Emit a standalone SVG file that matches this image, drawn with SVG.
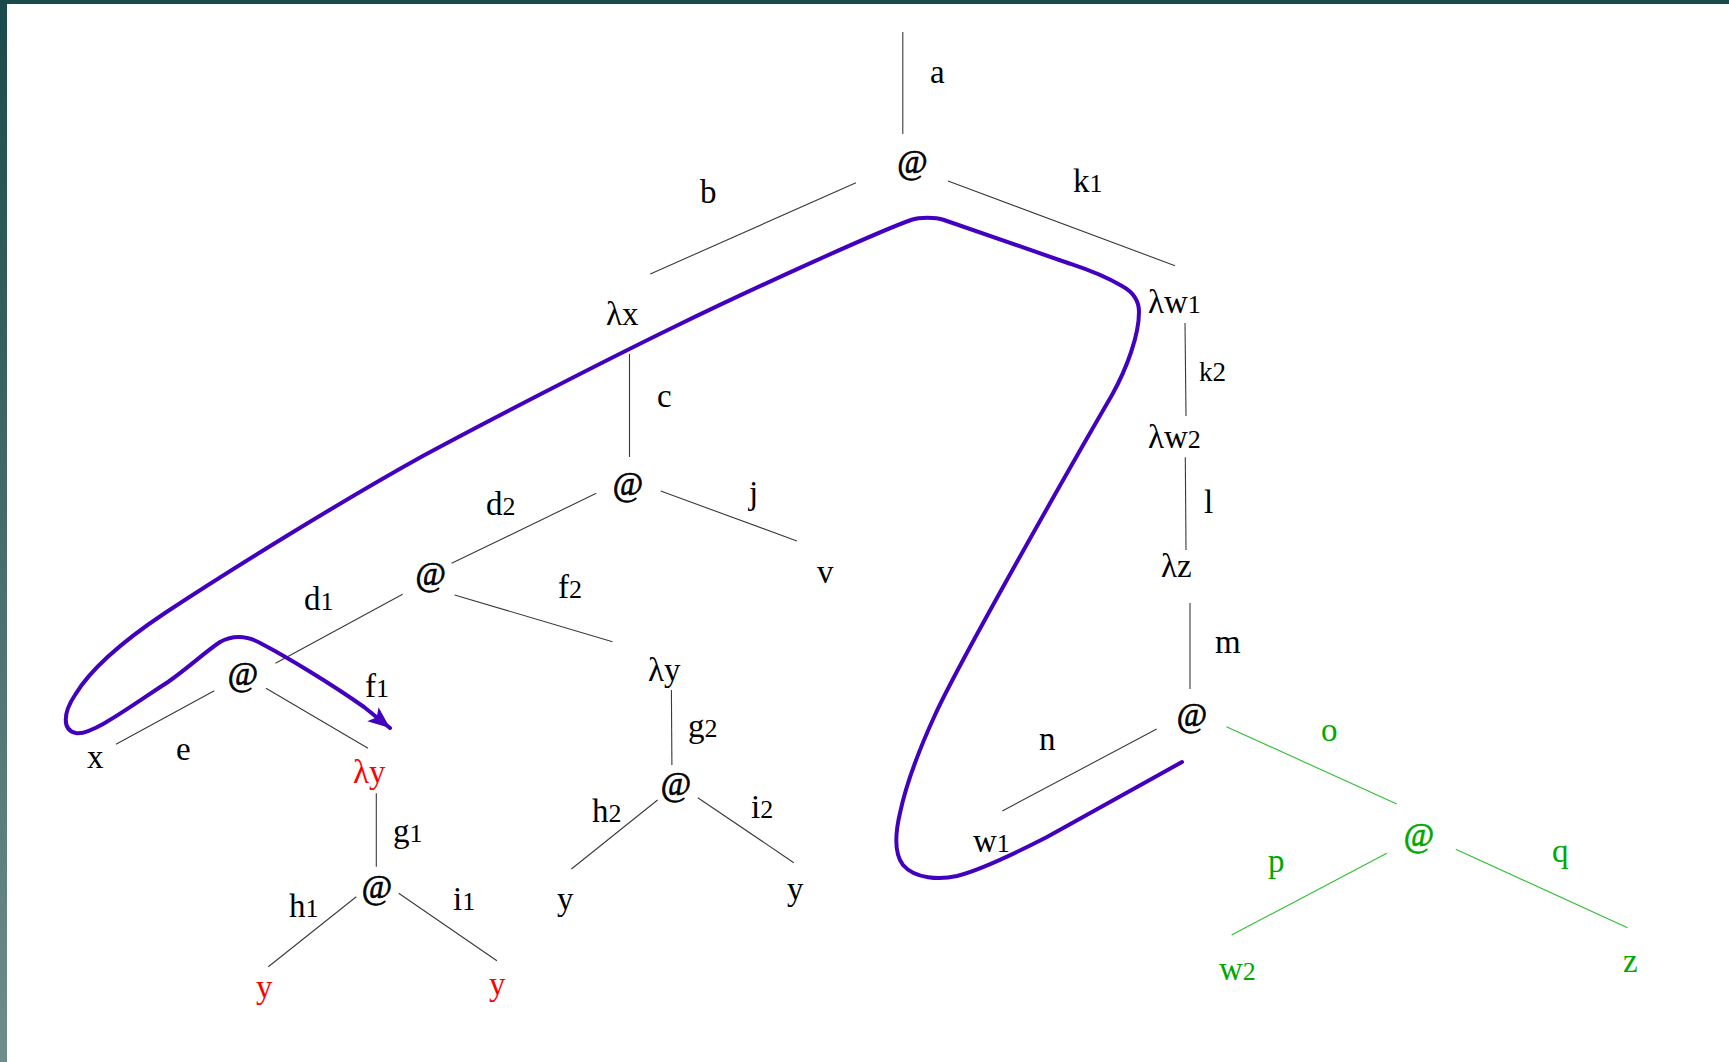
<svg xmlns="http://www.w3.org/2000/svg" width="1729" height="1062" viewBox="0 0 1729 1062">
<style>
text{font-family:"Liberation Serif","Times New Roman",serif;font-size:33px;fill:#000}
.r{fill:#ff0000}
.g{fill:#00a800}
.s{font-size:26px}
.m{text-anchor:middle}
.at{stroke:#000;stroke-width:0.7}
.at.g{stroke:#00a800}
.e line{stroke:#3a3a3a;stroke-width:1.1}
.e line.gl{stroke:#2fbf2f}
</style>
<defs>
<linearGradient id="bar" x1="0" y1="0" x2="0" y2="1">
<stop offset="0" stop-color="#1b4a4a"/>
<stop offset="1" stop-color="#6e8d8b"/>
</linearGradient>
<marker id="ah" markerUnits="userSpaceOnUse" markerWidth="26" markerHeight="20" refX="22" refY="9" orient="auto">
<path d="M0,0 L22,9 L0,18 L5,9 Z" fill="#4200bf"/>
</marker>
</defs>
<rect width="1729" height="1062" fill="#ffffff"/>
<rect x="0" y="0" width="1729" height="4" fill="#1b4a4a"/>
<rect x="0" y="0" width="7" height="1062" fill="url(#bar)"/>

<g id="connectors" class="e">
<line x1="902.8" y1="32" x2="902.8" y2="134"/>
<line x1="650.3" y1="274" x2="856" y2="182.7"/>
<line x1="948" y1="181" x2="1175" y2="265.7"/>
<line x1="629.5" y1="354" x2="629.5" y2="457"/>
<line x1="1185" y1="323" x2="1186" y2="416"/>
<line x1="1185.3" y1="457.3" x2="1186" y2="550"/>
<line x1="1190" y1="603" x2="1190" y2="689"/>
<line x1="451.6" y1="563.3" x2="596.3" y2="493.3"/>
<line x1="660.7" y1="491" x2="796.9" y2="541"/>
<line x1="454.6" y1="595" x2="612.5" y2="641.7"/>
<line x1="275.5" y1="663.3" x2="402.6" y2="594.3"/>
<line x1="116" y1="744.3" x2="214.3" y2="690.7"/>
<line x1="266" y1="688.3" x2="368" y2="748.3"/>
<line x1="376.3" y1="793.3" x2="376.3" y2="866.7"/>
<line x1="356.3" y1="896.7" x2="268.3" y2="966.7"/>
<line x1="398.7" y1="893.3" x2="496.9" y2="960.7"/>
<line x1="671.4" y1="690" x2="671.9" y2="765"/>
<line x1="657.6" y1="800" x2="571.4" y2="869"/>
<line x1="697.8" y1="797.7" x2="793.8" y2="862.7"/>
<line x1="1156.7" y1="729" x2="1002.3" y2="811"/>
<line class="gl" x1="1226.4" y1="726.7" x2="1396.8" y2="804"/>
<line class="gl" x1="1386.8" y1="853.3" x2="1231.6" y2="935"/>
<line class="gl" x1="1455.8" y1="849.3" x2="1627.5" y2="927.7"/>
</g>

<g id="labels">
<text x="930" y="83">a</text>
<text x="700" y="203">b</text>
<text x="1073" y="192">k<tspan class="s">1</tspan></text>
<text x="657" y="407">c</text>
<text x="1199" y="381" style="font-size:27px">k2</text>
<text x="486" y="515">d<tspan class="s">2</tspan></text>
<text x="749" y="504">j</text>
<text x="1204" y="513">l</text>
<text x="558" y="598">f<tspan class="s">2</tspan></text>
<text x="304" y="610">d<tspan class="s">1</tspan></text>
<text x="1215" y="653">m</text>
<text x="365" y="697">f<tspan class="s">1</tspan></text>
<text x="688" y="737">g<tspan class="s">2</tspan></text>
<text class="g" x="1321" y="741">o</text>
<text x="1039" y="750">n</text>
<text x="176" y="760">e</text>
<text x="592" y="822">h<tspan class="s">2</tspan></text>
<text x="751" y="818">i<tspan class="s">2</tspan></text>
<text x="393" y="842">g<tspan class="s">1</tspan></text>
<text class="g" x="1268" y="872">p</text>
<text class="g" x="1552" y="862">q</text>
<text x="289" y="917">h<tspan class="s">1</tspan></text>
<text x="453" y="910">i<tspan class="s">1</tspan></text>
</g>

<g id="n-root"><text class="m at" x="912.5" y="173">@</text></g>
<g id="n-lx"><text x="606" y="325">λx</text></g>
<g id="n-lw1"><text x="1148" y="313">λw<tspan class="s">1</tspan></text></g>
<g id="n-app-c"><text class="m at" x="628" y="495">@</text></g>
<g id="n-lw2"><text x="1148" y="448">λw<tspan class="s">2</tspan></text></g>
<g id="n-lz"><text x="1161" y="577">λz</text></g>
<g id="n-app-d"><text class="m at" x="430.6" y="585">@</text></g>
<g id="n-v"><text x="817" y="583">v</text></g>
<g id="n-app-e"><text class="m at" x="243" y="685">@</text></g>
<g id="n-ly2"><text x="648" y="681">λy</text></g>
<g id="n-app-n"><text class="m at" x="1192" y="726">@</text></g>
<g id="n-x"><text x="87" y="768">x</text></g>
<g id="n-ly1"><text class="r" x="353" y="783">λy</text></g>
<g id="n-app-g2"><text class="m at" x="676" y="795">@</text></g>
<g id="n-w1"><text x="973" y="852">w<tspan class="s">1</tspan></text></g>
<g id="n-app-green"><text class="m g at" x="1419" y="846">@</text></g>
<g id="n-app-g1"><text class="m at" x="377" y="898">@</text></g>
<g id="n-y3"><text x="557" y="910">y</text></g>
<g id="n-y4"><text x="787" y="900">y</text></g>
<g id="n-w2"><text class="g" x="1219" y="980">w<tspan class="s">2</tspan></text></g>
<g id="n-z"><text class="g" x="1623" y="972">z</text></g>
<g id="n-y1"><text class="r" x="256" y="998">y</text></g>
<g id="n-y2"><text class="r" x="489" y="995">y</text></g>

<g id="traversal">
<path d="M1182,762 L1047,837 C1010,856 980,870 957,876 C940,880 915,879 903,865 C893,852 896,830 900,813 C906,785 918,752 935,715 C960,660 1080,450 1112,395 C1127,368 1139,335 1139,312 C1139,300 1133,292 1122,286 C1100,273 1080,267 1068,263 L944,220 C935,217 920,217 911,220 C880,231 760,285 674,327 C600,363 480,425 421,457 C340,502 230,570 165,613 C120,643 90,670 75,695 C63,713 62,730 76,733 C92,736 135,703 168,682 C188,668 205,652 220,642 C235,634 250,637 262,644 C285,656 330,683 364,707 L390,728" fill="none" stroke="#4200bf" stroke-width="4" stroke-linejoin="round" stroke-linecap="round" marker-end="url(#ah)"/>
</g>
</svg>
